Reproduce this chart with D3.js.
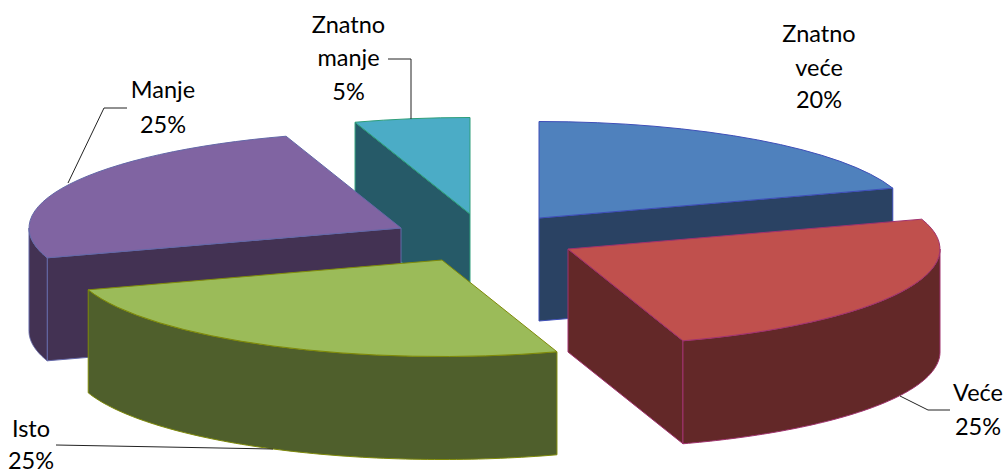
<!DOCTYPE html>
<html>
<head>
<meta charset="utf-8">
<script src="https://cdn.jsdelivr.net/npm/d3@7/dist/d3.min.js"></script>
<style>
html,body{margin:0;padding:0;background:#fff;}
svg{display:block;}
text{font-family:Lato,"Open Sans",sans-serif;font-size:23.5px;fill:#000;text-anchor:middle;}
</style>
</head>
<body>
<svg id="chart" width="1005" height="470"></svg>
<script>
// data
const categories = ["Znatno veće", "Veće", "Isto", "Manje", "Znatno manje"];
const values = [20, 25, 25, 25, 5];

// styles
const topColors  = ["#4F81BD", "#C0504D", "#9BBB59", "#8064A2", "#4BACC6"];
const sideColors = ["#2A4263", "#632828", "#4F5F2C", "#433253", "#265A68"];
const edgeColors = ["#3F4FB8", "#A0326E", "#7F8A0A", "#6468A8", "#2E9E7A"];

// layout: exploded apex of every slice, ellipse radii, extrusion
const apexX = [539, 568, 442, 401, 470];
const apexY = [218, 249, 260, 228, 214];
const rx = 372, ry = 96.5, depth = 103;
const drawOrder = [0, 4, 3, 1, 2];

// label layout
const labelLines = [["Znatno", "veće"], ["Veće"], ["Isto"], ["Manje"], ["Znatno", "manje"]];
const labelX = [819, 978, 31, 163, 348.5];
const labelY = [[42, 76, 108], [401, 435], [437, 469], [98, 133], [33, 66, 100]];
const leaders = [
  null,
  [[950, 410], [928, 410], [900, 396]],
  [[56, 445], [273, 449]],
  [[127, 108], [104, 108], [68, 183]],
  [[388, 59], [411, 59], [411, 119]]
];

const svg = d3.select("#chart");
const arcs = d3.pie().sort(null).value(d => d)(values);
const line = d3.line();
const topArc = d3.arc().innerRadius(0).outerRadius(1);

const rimPoint = (a, i, dz) => [apexX[i] + rx * Math.sin(a), apexY[i] - ry * Math.cos(a) + dz];

const cutFace = (a, i) => line([
  [apexX[i], apexY[i]], rimPoint(a, i, 0), rimPoint(a, i, depth), [apexX[i], apexY[i] + depth]
]) + "Z";

const outerWall = (a0, a1, i) => {
  const n = 80;
  const angles = d3.range(n + 1).map(k => a0 + (a1 - a0) * k / n);
  const upper = angles.map(a => rimPoint(a, i, 0));
  const lower = angles.slice().reverse().map(a => rimPoint(a, i, depth));
  return line(upper.concat(lower)) + "Z";
};

drawOrder.forEach(i => {
  const a = arcs[i];
  const g = svg.append("g")
    .attr("fill", sideColors[i])
    .attr("stroke", edgeColors[i])
    .attr("stroke-width", 1)
    .attr("stroke-linejoin", "round");

  // cut faces turned towards the viewer
  if (Math.sin(a.startAngle) < -1e-6) g.append("path").attr("d", cutFace(a.startAngle, i));
  if (Math.sin(a.endAngle) > 1e-6) g.append("path").attr("d", cutFace(a.endAngle, i));

  // visible part of the outer wall (front half of the ellipse)
  const w0 = Math.max(a.startAngle, Math.PI / 2);
  const w1 = Math.min(a.endAngle, 3 * Math.PI / 2);
  if (w1 > w0) g.append("path").attr("d", outerWall(w0, w1, i));

  // top face
  g.append("path")
    .attr("d", topArc({ startAngle: a.startAngle, endAngle: a.endAngle }))
    .attr("transform", `translate(${apexX[i]},${apexY[i]}) scale(${rx},${ry})`)
    .attr("vector-effect", "non-scaling-stroke")
    .attr("fill", topColors[i]);
});

// leader lines
leaders.forEach(pts => {
  if (!pts) return;
  svg.append("path").attr("d", line(pts))
    .attr("fill", "none").attr("stroke", "#222").attr("stroke-width", 1);
});

// labels
categories.forEach((c, i) => {
  const lines = labelLines[i].concat([values[i] + "%"]);
  lines.forEach((t, k) => {
    svg.append("text").attr("x", labelX[i]).attr("y", labelY[i][k]).text(t);
  });
});
</script>
</body>
</html>
